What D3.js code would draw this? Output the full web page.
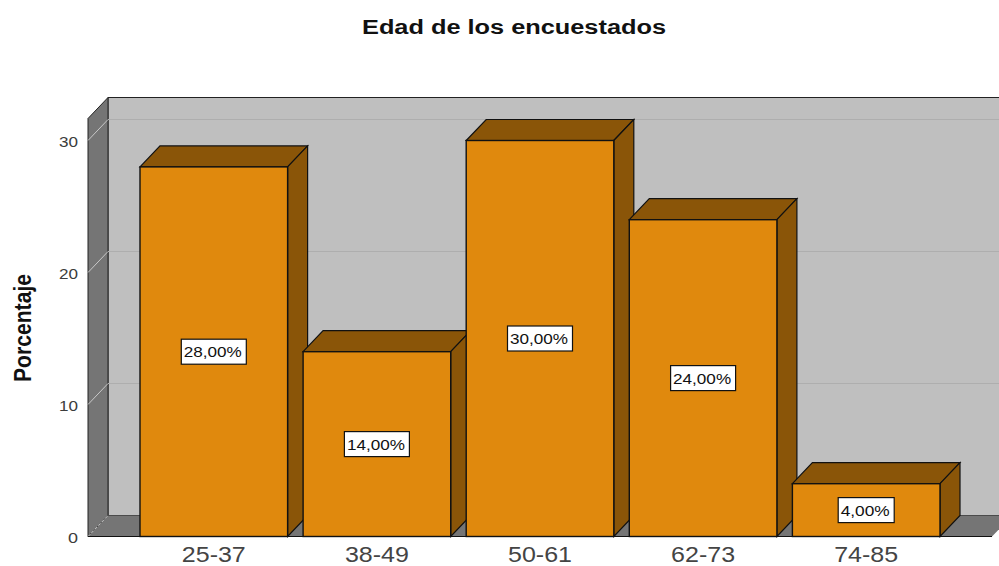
<!DOCTYPE html>
<html>
<head>
<meta charset="utf-8">
<script src="https://cdn.jsdelivr.net/npm/d3@7"></script>
<style>
  html, body { margin: 0; background: #fff; }
  svg { display: block; font-family: "Liberation Sans", Arial, sans-serif; }
</style>
</head>
<body>
<div id="chart"></div>
<script>
var categories = ["25-37", "38-49", "50-61", "62-73", "74-85"];
var percentages = [28, 14, 30, 24, 4];
var valueLabels = ["28,00%", "14,00%", "30,00%", "24,00%", "4,00%"];
var yTicks = [0, 10, 20, 30];

var width = 999, height = 566;
var depthX = 20, depthY = 21;
var floorY = 536.5, topY = 118.5;
var wallLeft = 88, wallRight = 992;

var x = d3.scaleBand().domain(categories).range([140, 940]).paddingInner(0.095);
var y = d3.scaleLinear().domain([0, 30]).range([floorY, 140.5]);

var svg = d3.select('#chart').append('svg')
    .attr('width', width)
    .attr('height', height);

function poly(points) {
    return points.map(function (p) { return p.join(','); }).join(' ');
}

// walls
svg.append('polygon')
    .attr('points', poly([[wallLeft + depthX, topY - depthY], [wallRight + depthX, topY - depthY], [wallRight + depthX, floorY - depthY], [wallLeft + depthX, floorY - depthY]]))
    .attr('fill', '#bfbfbf')
    .attr('stroke', '#222');
svg.append('polygon')
    .attr('points', poly([[wallLeft, topY], [wallLeft + depthX, topY - depthY], [wallLeft + depthX, floorY - depthY], [wallLeft, floorY]]))
    .attr('fill', '#757575')
    .attr('stroke', '#222');
svg.append('polygon')
    .attr('points', poly([[wallLeft, floorY], [wallLeft + depthX, floorY - depthY], [wallRight + depthX, floorY - depthY], [wallRight, floorY]]))
    .attr('fill', '#757575');

// grid lines, over both walls
var grid = svg.append('g');
yTicks.filter(function (d) { return d > 0; }).forEach(function (d) {
    grid.append('line')
        .attr('x1', wallLeft + depthX).attr('x2', wallRight + depthX)
        .attr('y1', y(d) - depthY).attr('y2', y(d) - depthY)
        .attr('stroke', '#aeaeae');
    grid.append('line')
        .attr('x1', wallLeft).attr('x2', wallLeft + depthX)
        .attr('y1', y(d)).attr('y2', y(d) - depthY)
        .attr('stroke', '#c8c8c8');
});
grid.append('line')
    .attr('x1', wallLeft).attr('x2', wallLeft + depthX)
    .attr('y1', floorY).attr('y2', floorY - depthY)
    .attr('stroke', '#c8c8c8')
    .attr('stroke-dasharray', '3,2');

// bars, left to right so each one covers the side of the previous
var bars = svg.selectAll('g.bar')
    .data(percentages)
    .enter().append('g')
    .attr('class', 'bar');

bars.append('polygon')
    .attr('points', function (d, i) {
        var x0 = x(categories[i]), x1 = x0 + x.bandwidth(), t = y(d);
        return poly([[x0, t], [x0 + depthX, t - depthY], [x1 + depthX, t - depthY], [x1, t]]);
    })
    .attr('fill', '#8a5508')
    .attr('stroke', '#111')
    .attr('stroke-width', 1.2);
bars.append('polygon')
    .attr('points', function (d, i) {
        var x1 = x(categories[i]) + x.bandwidth(), t = y(d);
        return poly([[x1, t], [x1 + depthX, t - depthY], [x1 + depthX, floorY - depthY], [x1, floorY]]);
    })
    .attr('fill', '#8a5508')
    .attr('stroke', '#111')
    .attr('stroke-width', 1.2);
bars.append('rect')
    .attr('x', function (d, i) { return x(categories[i]); })
    .attr('y', function (d) { return y(d); })
    .attr('width', x.bandwidth())
    .attr('height', function (d) { return floorY - y(d); })
    .attr('fill', '#e0890d')
    .attr('stroke', '#111')
    .attr('stroke-width', 1.4);

// value labels
bars.each(function (d, i) {
    var g = d3.select(this);
    var cx = x(categories[i]) + x.bandwidth() / 2;
    var cy = (y(d) + floorY) / 2;
    var boxW = 65, textW = 58;
    if (valueLabels[i].length < 6) { boxW = 56; textW = 49; }
    g.append('rect')
        .attr('x', cx - boxW / 2)
        .attr('y', cy - 12.5)
        .attr('width', boxW)
        .attr('height', 25)
        .attr('fill', '#fff')
        .attr('stroke', '#111')
        .attr('stroke-width', 1.2);
    g.append('text')
        .attr('x', cx - 1)
        .attr('y', cy)
        .attr('dy', '0.36em')
        .attr('text-anchor', 'middle')
        .attr('font-size', 15.5)
        .attr('textLength', textW)
        .attr('lengthAdjust', 'spacingAndGlyphs')
        .attr('fill', '#111')
        .text(valueLabels[i]);
});

// axes
var yAxis = svg.append('g')
    .attr('transform', 'translate(' + (wallLeft - 10) + ',1)')
    .call(d3.axisLeft(y).tickValues(yTicks).tickSize(0).tickPadding(0));
yAxis.select('.domain').remove();
yAxis.selectAll('text')
    .attr('font-size', 15)
    .attr('font-family', '"Liberation Sans", Arial, sans-serif')
    .attr('fill', '#3c3c3c')
    .attr('dy', '0.36em')
    .attr('textLength', function (d) { return d === 0 ? 10 : 19; })
    .attr('lengthAdjust', 'spacingAndGlyphs');

var xAxis = svg.append('g')
    .attr('transform', 'translate(0,' + floorY + ')')
    .call(d3.axisBottom(x).tickSize(0).tickPadding(10));
xAxis.select('.domain')
    .attr('d', 'M' + wallLeft + ',0H' + wallRight)
    .attr('stroke', '#111')
    .attr('stroke-width', 1.2);
xAxis.selectAll('text')
    .attr('font-size', 22)
    .attr('font-family', '"Liberation Sans", Arial, sans-serif')
    .attr('fill', '#444')
    .attr('textLength', 64)
    .attr('lengthAdjust', 'spacingAndGlyphs');

// titles
svg.append('text')
    .attr('x', 514)
    .attr('y', 34)
    .attr('text-anchor', 'middle')
    .attr('font-size', 20)
    .attr('font-weight', 'bold')
    .attr('textLength', 304)
    .attr('lengthAdjust', 'spacingAndGlyphs')
    .attr('fill', '#111')
    .text('Edad de los encuestados');

svg.append('text')
    .attr('transform', 'translate(31,328) rotate(-90)')
    .attr('text-anchor', 'middle')
    .attr('font-size', 23)
    .attr('font-weight', 'bold')
    .attr('textLength', 108)
    .attr('lengthAdjust', 'spacingAndGlyphs')
    .attr('fill', '#111')
    .text('Porcentaje');
</script>
</body>
</html>
